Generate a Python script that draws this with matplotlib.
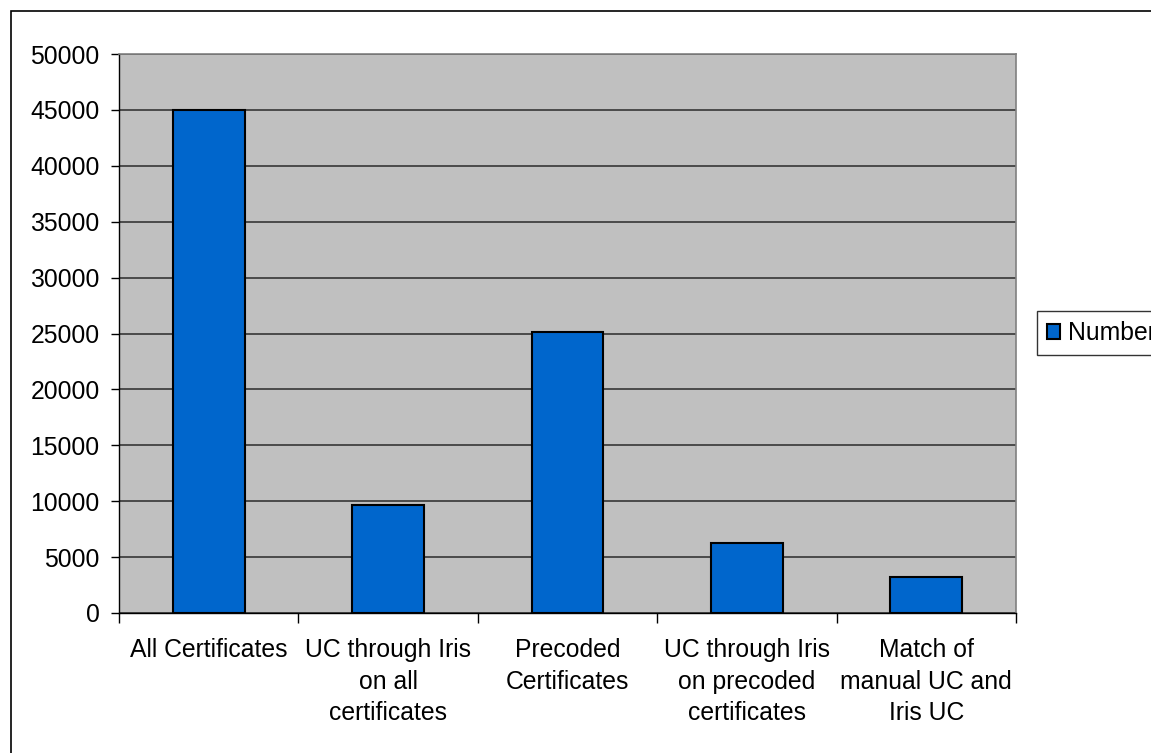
import matplotlib
matplotlib.use("Agg")
import matplotlib.pyplot as plt
from matplotlib.patches import Rectangle
import numpy as np

categories = [
    "All Certificates",
    "UC through Iris\non all\ncertificates",
    "Precoded\nCertificates",
    "UC through Iris\non precoded\ncertificates",
    "Match of\nmanual UC and\nIris UC",
]
numbers = [45000, 9650, 25150, 6230, 3200]
series_name = "Number"
y_ticks = list(range(0, 50001, 5000))

W, H = 1151, 753
DPI = 100
plt.rcParams["font.family"] = ["Liberation Sans", "DejaVu Sans"]
plt.rcParams["font.size"] = 17.8

fig = plt.figure(figsize=(W / DPI, H / DPI), dpi=DPI)
fig.patch.set_facecolor("white")

# outer chart border (runs past the right and bottom edges)
fig.add_artist(Rectangle((11 / W, -0.1), 1.2, (H - 11) / H + 0.1,
                         transform=fig.transFigure, fill=False,
                         edgecolor="black", linewidth=1.2))

ax = fig.add_axes([119 / W, (H - 613) / H, (1016 - 119) / W, (613 - 54) / H])
ax.set_facecolor("#C0C0C0")

x = np.arange(len(categories))
bars = ax.bar(x, numbers, width=0.4, color="#0066CC", edgecolor="black",
              linewidth=1.5, label=series_name, zorder=3)

ax.set_xlim(-0.5, len(categories) - 0.5)
ax.set_ylim(0, 50000)
ax.set_yticks(y_ticks)
ax.set_yticklabels([str(v) for v in y_ticks])
ax.yaxis.grid(True, color="#2a2a2a", linewidth=1.1, zorder=1)
ax.set_axisbelow(True)

ax.set_xticks(x)
ax.set_xticklabels(categories, linespacing=1.4)
ax.set_xticks(np.arange(-0.5, len(categories)), minor=True)
ax.tick_params(axis="x", which="major", length=0, pad=18)
ax.tick_params(axis="x", which="minor", length=7, width=1.0, direction="out")
ax.tick_params(axis="y", length=6, width=1.0, direction="out", pad=8)

for side in ("top", "right"):
    ax.spines[side].set_color("#808080")
    ax.spines[side].set_linewidth(1.2)
ax.spines["left"].set_color("black")
ax.spines["bottom"].set_color("black")
ax.spines["left"].set_linewidth(1.0)
ax.spines["bottom"].set_linewidth(1.0)

leg = ax.legend(loc="center left", bbox_to_anchor=(1037 / W, (H - 333) / H),
                bbox_transform=fig.transFigure, frameon=True, fancybox=False,
                shadow=False, handlelength=0.55, handleheight=0.55,
                handletextpad=0.3, borderpad=0.4, borderaxespad=0)
leg.get_frame().set_edgecolor("black")
leg.get_frame().set_linewidth(1.0)

fig.savefig("out.png", dpi=DPI)
